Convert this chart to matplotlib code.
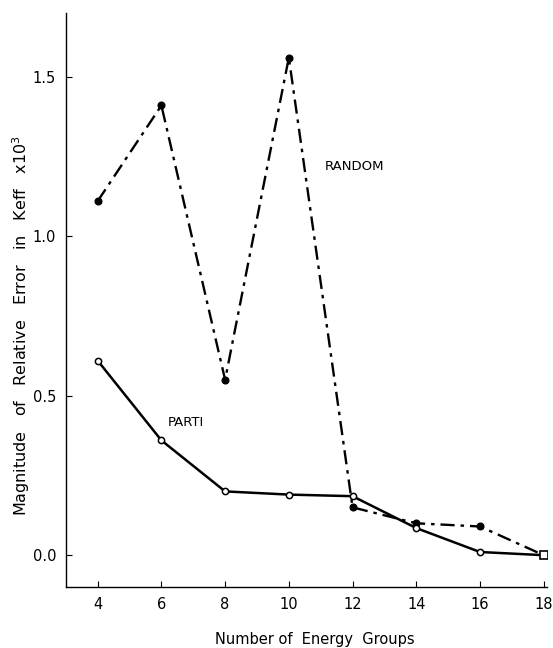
import matplotlib.pyplot as plt

# Data
groups = [4, 6, 8, 10, 12, 14, 16, 18]
random_err = [1.11, 1.41, 0.55, 1.56, 0.15, 0.10, 0.09, 0.00]
parti_err = [0.61, 0.36, 0.20, 0.19, 0.185, 0.085, 0.01, 0.00]

yticks = [0.0, 0.5, 1.0, 1.5]
ytick_labels = ["0.0", "0.5", "1.0", "1.5"]

fig = plt.figure(figsize=(5.53, 6.48), dpi=100)
ax = fig.add_axes([0.119, 0.094, 0.870, 0.886])

n = len(groups)
# RANDOM: dash-dot with filled dots
ax.plot(groups, random_err, color="black", linestyle=(0, (6, 2.5, 1.5, 2.5)), linewidth=1.7,
        marker="o", markersize=4.8, markerfacecolor="black", markeredgecolor="black",
        markevery=list(range(n - 1)))
# PARTI: solid with open circles
ax.plot(groups, parti_err, color="black", linestyle="-", linewidth=1.8,
        marker="o", markersize=4.5, markerfacecolor="white", markeredgecolor="black",
        markeredgewidth=1.1, markevery=list(range(n - 1)))
# common end point drawn as an open square
ax.plot(groups[-1], parti_err[-1], marker="s", markersize=5.5, markerfacecolor="white",
        markeredgecolor="black", markeredgewidth=1.2, linestyle="none")

ax.text(11.13, 1.22, "RANDOM", fontsize=9.5, ha="left", va="center")
ax.text(6.2, 0.416, "PARTI", fontsize=9.5, ha="left", va="center")

ax.set_xlim(3, 18.1)
ax.set_ylim(-0.1, 1.7)
ax.set_xticks(groups)
ax.set_xticklabels([str(g) for g in groups], fontsize=10.5)
ax.set_yticks(yticks)
ax.set_yticklabels(ytick_labels, fontsize=10.5)
ax.tick_params(direction="in", length=4, width=0.8, pad=7)

ax.spines["top"].set_visible(False)
ax.spines["right"].set_visible(False)
ax.spines["left"].set_linewidth(1.0)
ax.spines["bottom"].set_linewidth(1.0)

fig.text(0.57, 0.013, "Number of  Energy  Groups", fontsize=10.5, ha="center", va="center")
fig.text(0.038, 0.498, r"Magnitude   of   Relative   Error   in   Keff   x$10^3$", fontsize=11.5,
         rotation=90, ha="center", va="center")

plt.savefig("out.png", dpi=100)
plt.close()
